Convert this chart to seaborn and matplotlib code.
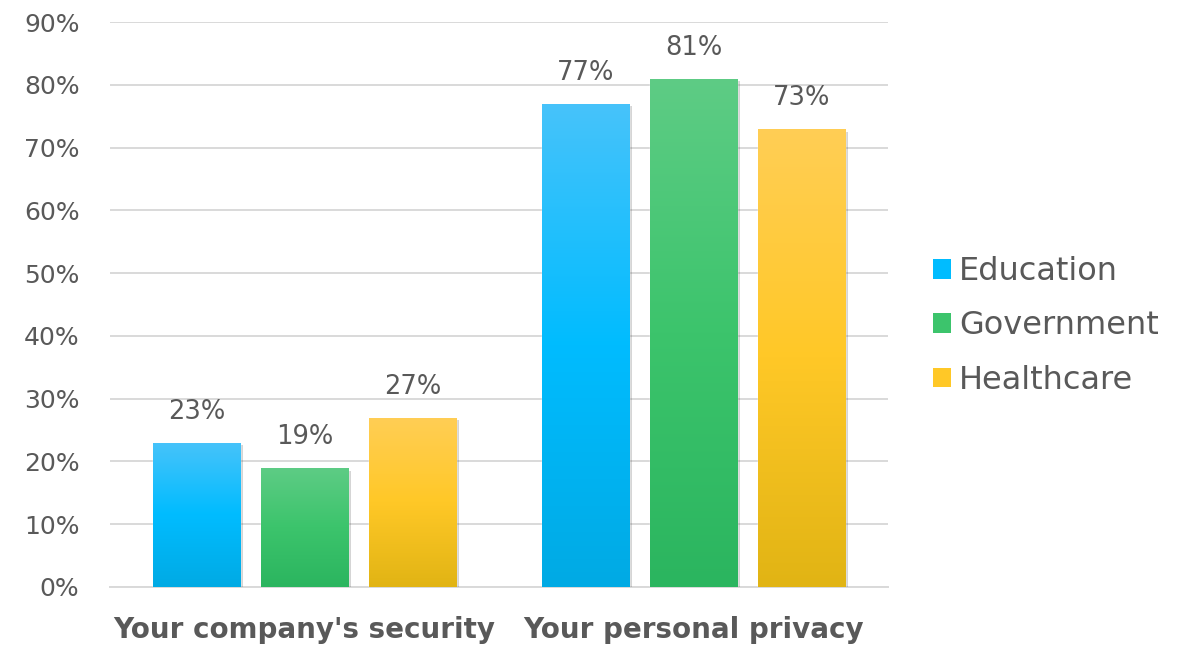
import numpy as np
import pandas as pd
import matplotlib
matplotlib.use("Agg")
import matplotlib.pyplot as plt
import matplotlib.patheffects as pe
from matplotlib.colors import LinearSegmentedColormap
from matplotlib.patches import Patch
import seaborn as sns

categories = ["Your company's security", "Your personal privacy"]
sectors = ["Education", "Government", "Healthcare"]
education = [23, 77]
government = [19, 81]
healthcare = [27, 73]
y_ticks = [0, 10, 20, 30, 40, 50, 60, 70, 80, 90]

# top, middle, bottom shades for each sector's vertical gradient
shades = {
    "Education": ["#47C3FA", "#00BCFF", "#00AAE4"],
    "Government": ["#5ECC85", "#3CC46C", "#2BB55F"],
    "Healthcare": ["#FFCE55", "#FFC827", "#E1B414"],
}

df = pd.DataFrame({
    "category": categories * 3,
    "sector": [s for s in sectors for _ in categories],
    "value": education + government + healthcare,
})

sns.set_theme(style="white")
plt.rcParams["font.family"] = ["DejaVu Sans"]
text_color = "#595959"

fig = plt.figure(figsize=(11.84, 6.47), dpi=100)
ax = fig.add_axes([110 / 1184, 60 / 647, 778 / 1184, 565 / 647])

palette = {s: shades[s][1] for s in sectors}
sns.barplot(data=df, x="category", y="value", hue="sector", order=categories,
            hue_order=sectors, palette=palette, width=0.834, gap=0.19,
            saturation=1, ax=ax, legend=False, zorder=3)

ax.set_ylim(0, 90)
ax.set_xlim(-0.5, 1.5)
ax.set_yticks(y_ticks)
ax.set_yticklabels([f"{t}%" for t in y_ticks], fontsize=18, color=text_color)
ax.tick_params(axis="y", length=0, pad=22)
ax.tick_params(axis="x", length=0, pad=21)
for lbl in ax.get_xticklabels():
    lbl.set_fontsize(20)
    lbl.set_fontweight("bold")
    lbl.set_color(text_color)
ax.set_xlabel("")
ax.set_ylabel("")
ax.grid(axis="y", color="#D9D9D9", linewidth=1.4, zorder=0)
ax.set_axisbelow(True)
for side in ["left", "right", "top"]:
    ax.spines[side].set_visible(False)
ax.spines["bottom"].set_color("#D9D9D9")
ax.spines["bottom"].set_linewidth(1.4)

# vertical gradient fill and value label per bar
for container, sector in zip(ax.containers, sectors):
    cmap = LinearSegmentedColormap.from_list(sector, shades[sector][::-1])
    grad = np.linspace(0, 1, 256).reshape(-1, 1)
    for bar in container:
        bar.set_path_effects([
            pe.SimplePatchShadow(offset=(2, -2), shadow_rgbFace="k", alpha=0.18),
            pe.Normal(),
        ])
        x0, w, h = bar.get_x(), bar.get_width(), bar.get_height()
        im = ax.imshow(grad, cmap=cmap, origin="lower", aspect="auto",
                       extent=[x0, x0 + w, 0, h], zorder=4)
        im.set_clip_path(bar)
        ax.text(x0 + w / 2, h + 3.7, f"{h:.0f}%", ha="center", va="baseline",
                fontsize=18.5, color=text_color, zorder=5)
ax.set_xlim(-0.5, 1.5)
ax.set_ylim(0, 90)

handles = [Patch(facecolor=shades[s][1], edgecolor="none") for s in sectors]
leg = fig.legend(handles, sectors, loc="center left",
                 bbox_to_anchor=(920 / 1184, 1 - 326 / 647), frameon=False,
                 fontsize=23, labelcolor=text_color, handlelength=0.57,
                 handleheight=0.57, handletextpad=0.25, labelspacing=0.73,
                 borderaxespad=0)

fig.savefig("out.png", dpi=100)
